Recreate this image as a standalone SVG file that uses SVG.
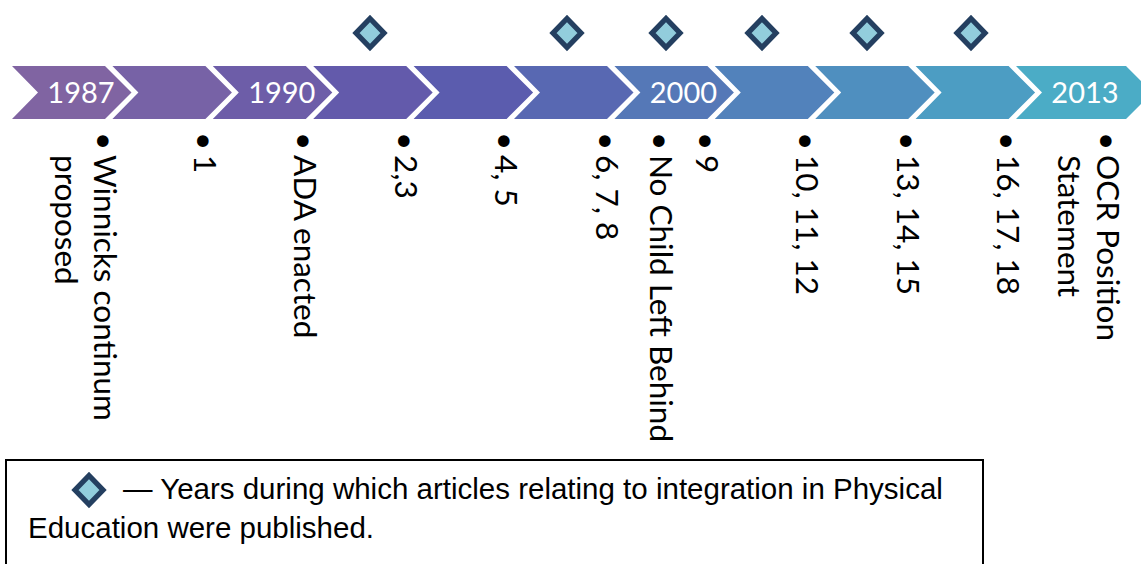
<svg xmlns="http://www.w3.org/2000/svg" width="1141" height="564" viewBox="0 0 1141 564">
<style>
.yr{font-family:Lato,"Liberation Sans",sans-serif;font-size:29px;fill:#fff;text-anchor:middle}
.lbl{font-family:Lato,"Liberation Sans",sans-serif;font-size:31.5px;fill:#000}
.leg{font-family:"Liberation Sans",Arial,sans-serif;font-size:29.5px;fill:#000}
.dia{fill:#92CDDC;stroke:#243F60;stroke-width:5.3;stroke-linejoin:miter}
</style>
<defs>
<polygon id="dm" points="0,-14.5 14,0 0,14.5 -14,0"/>
</defs>
<rect width="1141" height="564" fill="#fff"/>
<g id="timeline">
<g id="c1"><polygon points="12,66 105,66 131.5,92.5 105,119 12,119 38,92.5" fill="#8064A2"/><text class="yr" x="81" y="103">1987</text></g>
<g id="c2"><polygon points="112.4,66 205.4,66 231.9,92.5 205.4,119 112.4,119 138.4,92.5" fill="#7762A6"/></g>
<g id="c3"><polygon points="212.8,66 305.8,66 332.3,92.5 305.8,119 212.8,119 238.8,92.5" fill="#6D5DA8"/><text class="yr" x="281.8" y="103">1990</text></g>
<g id="c4"><polygon points="313.2,66 406.2,66 432.7,92.5 406.2,119 313.2,119 339.2,92.5" fill="#635AAB"/></g>
<g id="c5"><polygon points="413.6,66 506.6,66 533.1,92.5 506.6,119 413.6,119 439.6,92.5" fill="#5B5CAE"/></g>
<g id="c6"><polygon points="514,66 607,66 633.5,92.5 607,119 514,119 540,92.5" fill="#5868B2"/></g>
<g id="c7"><polygon points="614.4,66 707.4,66 733.9,92.5 707.4,119 614.4,119 640.4,92.5" fill="#5578B7"/><text class="yr" x="683.4" y="103">2000</text></g>
<g id="c8"><polygon points="714.8,66 807.8,66 834.3,92.5 807.8,119 714.8,119 740.8,92.5" fill="#5282BB"/></g>
<g id="c9"><polygon points="815.2,66 908.2,66 934.7,92.5 908.2,119 815.2,119 841.2,92.5" fill="#4F8FBF"/></g>
<g id="c10"><polygon points="915.6,66 1008.6,66 1035.1,92.5 1008.6,119 915.6,119 941.6,92.5" fill="#4C9DC3"/></g>
<g id="c11"><polygon points="1016,66 1126,66 1152.5,92.5 1126,119 1016,119 1042,92.5" fill="#4BACC6"/><text class="yr" x="1085" y="103">2013</text></g>
</g>
<g id="markers">
<use href="#dm" class="dia" x="370" y="33"/>
<use href="#dm" class="dia" x="567" y="33"/>
<use href="#dm" class="dia" x="666" y="33"/>
<use href="#dm" class="dia" x="762" y="33"/>
<use href="#dm" class="dia" x="867" y="33"/>
<use href="#dm" class="dia" x="971" y="33"/>
</g>
<g id="labels">
<text class="lbl" transform="rotate(90)" y="-94"><tspan x="132">•</tspan><tspan x="155">Winnicks continum</tspan><tspan x="155" y="-55">proposed</tspan></text>
<text class="lbl" transform="rotate(90)" y="-194"><tspan x="132">•</tspan><tspan x="155">1</tspan></text>
<text class="lbl" transform="rotate(90)" y="-294"><tspan x="132">•</tspan><tspan x="155">ADA enacted</tspan></text>
<text class="lbl" transform="rotate(90)" y="-395"><tspan x="132">•</tspan><tspan x="155">2,3</tspan></text>
<text class="lbl" transform="rotate(90)" y="-495"><tspan x="132">•</tspan><tspan x="155">4, 5</tspan></text>
<text class="lbl" transform="rotate(90)" y="-596"><tspan x="132">•</tspan><tspan x="155">6, 7, 8</tspan></text>
<text class="lbl" transform="rotate(90)" y="-650"><tspan x="132">•</tspan><tspan x="155">No Child Left Behind</tspan></text>
<text class="lbl" transform="rotate(90)" y="-696"><tspan x="132">•</tspan><tspan x="155">9</tspan></text>
<text class="lbl" transform="rotate(90)" y="-796"><tspan x="132">•</tspan><tspan x="155">10, 11, 12</tspan></text>
<text class="lbl" transform="rotate(90)" y="-897"><tspan x="132">•</tspan><tspan x="155">13, 14, 15</tspan></text>
<text class="lbl" transform="rotate(90)" y="-997"><tspan x="132">•</tspan><tspan x="155">16, 17, 18</tspan></text>
<text class="lbl" transform="rotate(90)" y="-1097"><tspan x="132">•</tspan><tspan x="155">OCR Position</tspan><tspan x="155" y="-1058">Statement</tspan></text>
</g>
<g id="legend">
<rect x="6" y="460" width="977" height="120" fill="none" stroke="#000" stroke-width="2"/>
<use href="#dm" class="dia" x="89" y="490"/>
<text class="leg" x="123" y="499">— Years during which articles relating to integration in Physical</text>
<text class="leg" x="28" y="538">Education were published.</text>
</g>
</svg>
